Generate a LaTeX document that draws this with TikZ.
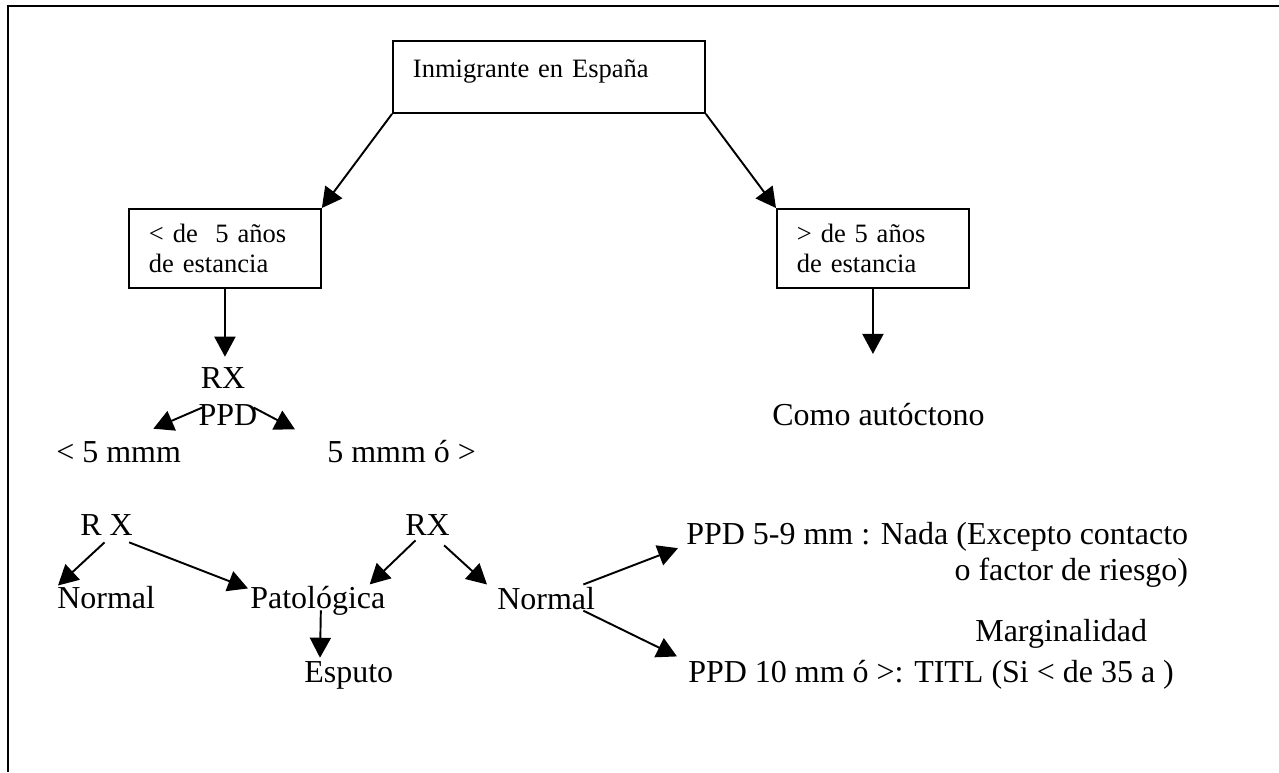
\documentclass[tikz,border=0pt]{standalone}
\usepackage{fontspec}
\setmainfont{Liberation Serif}
\usetikzlibrary{arrows.meta,calc}

\newcommand{\bigtxt}{\fontsize{18.2}{20.5}\selectfont}
\newcommand{\boxtxt}{\fontsize{15.1}{17.1}\selectfont}

\tikzset{
  box/.style={draw, line width=1.1pt, inner ysep=0pt, inner xsep=0.4cm,
    align=left, font=\boxtxt, anchor=north west},
  lbl/.style={inner sep=0pt, anchor=base west, font=\bigtxt},
  arr/.style={-{Triangle[length=0.4cm,width=0.42cm]}, line width=1.1pt},
}

\begin{document}
\begin{tikzpicture}[x=0.02cm, y=-0.02cm]
    \useasboundingbox (0,0) rectangle (1279,772);
    \draw[line width=1.1pt] (1279,6) -- (8,6) -- (8,772);

    % boxes
    \node[box, text width=5.44cm, text height=0.74cm, text depth=0.70cm] (top) at (392,40) {Inmigrante en España};
    \node[box, text width=3.04cm, minimum height=1.58cm] (lt) at (128,208) {< de~~5 años\\de estancia};
    \node[box, text width=3.04cm, minimum height=1.58cm] (rt) at (776,208) {> de 5 años\\de estancia};

    % labels
    \node[lbl, anchor=base] (rxa) at (223,388) {RX};
    \node[lbl, anchor=base] (ppd) at (228,425) {PPD};
    \node[lbl] (lo) at (56,462) {< 5 mmm};
    \node[lbl] (hi) at (327,462) {5 mmm ó >};
    \node[lbl] (como) at (772,425) {Como autóctono};
    \node[lbl] (rxl) at (80,535) {R X};
    \node[lbl] (rxr) at (405,535) {RX};
    \node[lbl] (nl) at (57,608) {Normal};
    \node[lbl] (pat) at (250,608) {Patológica};
    \node[lbl] (nr) at (497,609) {Normal};
    \node[lbl] (es) at (304,682) {Esputo};
    \node[lbl] (p59) at (686,544) {PPD 5-9 mm : Nada (Excepto contacto};
    \node[lbl, anchor=base east] (fr) at ($(p59.base east)+(0,36)$) {o factor de riesgo)};
    \node[lbl] (marg) at (975,641) {Marginalidad};
    \node[lbl] (p10) at (688,682) {PPD 10 mm ó >: TITL (Si < de 35 a )};

    % arrows
    \draw[arr] (top.south west) -- (lt.north east);
    \draw[arr] (top.south east) -- (rt.north west);
    \draw[arr] (lt.south) -- ($(lt.south |- rxa.north)+(0,-10)$);
    \draw[arr] (rt.south) -- ++(0,65);
    \draw[arr] ($(ppd.west)+(4,-7)$) -- ($(lo.north east)+(-28,-12)$);
    \draw[arr] ($(ppd.east)+(-4,-7)$) -- ($(hi.north west)+(-32,-10)$);
    \draw[arr] ($(rxl.south)+(-2,7)$) -- ($(nl.north west)+(1,0)$);
    \draw[arr] ($(rxl.south east)+(-4,7)$) -- ($(pat.north west)+(-2,3)$);
    \draw[arr] ($(rxr.south)+(-12,5)$) -- ($(pat.north east)+(-16,-1)$);
    \draw[arr] ($(rxr.south east)+(-6,10)$) -- ($(nr.north west)+(-10,-2)$);
    \draw[arr] ($(pat.south)+(3,-5)$) -- ($(es.north west)+(16,-3)$);
    \draw[arr] ($(nr.north east)+(-12,-2)$) -- ($(p59.south west)+(-8,-3)$);
    \draw[arr] ($(nr.south east)+(-12,1)$) -- ($(p10.north west)+(-11,-3)$);
\end{tikzpicture}
\end{document}
